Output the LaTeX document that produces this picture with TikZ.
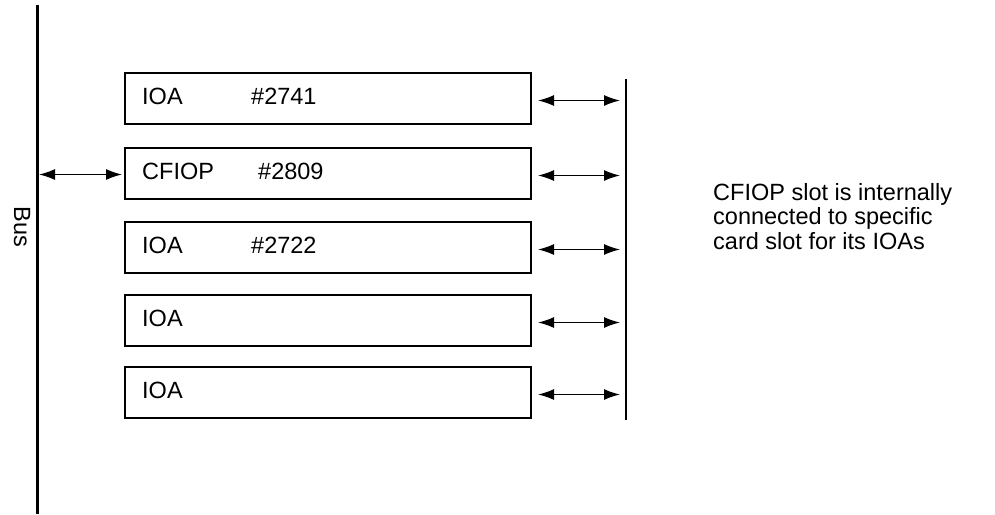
\documentclass[tikz,border=0pt]{standalone}
\usepackage{fontspec}
\setmainfont{Liberation Sans}
\usetikzlibrary{arrows.meta}
\begin{document}
\begin{tikzpicture}[x=1pt,y=-1pt,
  card/.style={draw,line width=2pt,minimum width=406pt,minimum height=51pt,anchor=north west,inner sep=0pt},
  lbl/.style={font=\fontsize{23.5}{26}\selectfont,anchor=west,inner sep=0pt},
  conn/.style={line width=1.4pt,{Latex[length=16pt,width=11pt]}-{Latex[length=16pt,width=11pt]}}]
\useasboundingbox (0,0) rectangle (995,514);
\coordinate (bustop) at (37,5);
\coordinate (busbot) at (37,514);
\draw[line width=3pt] (bustop) -- (busbot);
\node[rotate=-90,font=\fontsize{23.5}{26}\selectfont,inner sep=0pt] (bus) at (22,227) {Bus};
\coordinate (slottop) at (626,79);
\coordinate (slotbot) at (626,420);
\draw[line width=2pt] (slottop) -- (slotbot);
\foreach \i/\y/\a/\b/\bx in {1/72/IOA/\#2741/251,2/147/CFIOP/\#2809/258,3/221/IOA/\#2722/251,4/294/IOA//251,5/366/IOA//251}{
  \node[card] (c\i) at (124,\y) {};
  \node[lbl] (ta\i) at (142,\y+24) {\a};
  \node[lbl] (tb\i) at (\bx,\y+24) {\b};
  \coordinate (e\i) at ([xshift=6pt,yshift=-2pt]c\i.east);
  \coordinate (s\i) at (e\i -| slottop);
  \draw[conn] (e\i) -- ([xshift=-6pt]s\i);
}
\coordinate (busp) at ([yshift=-1pt]c2.west -| bustop);
\draw[conn] ([xshift=2pt]busp) -- ([xshift=-2pt,yshift=-1pt]c2.west);
\node[font=\fontsize{23.5}{24.5}\selectfont,align=left,anchor=north west,inner sep=0pt] (note) at (713,183) {CFIOP slot is internally\\connected to specific\\card slot for its IOAs};
\end{tikzpicture}
\end{document}
